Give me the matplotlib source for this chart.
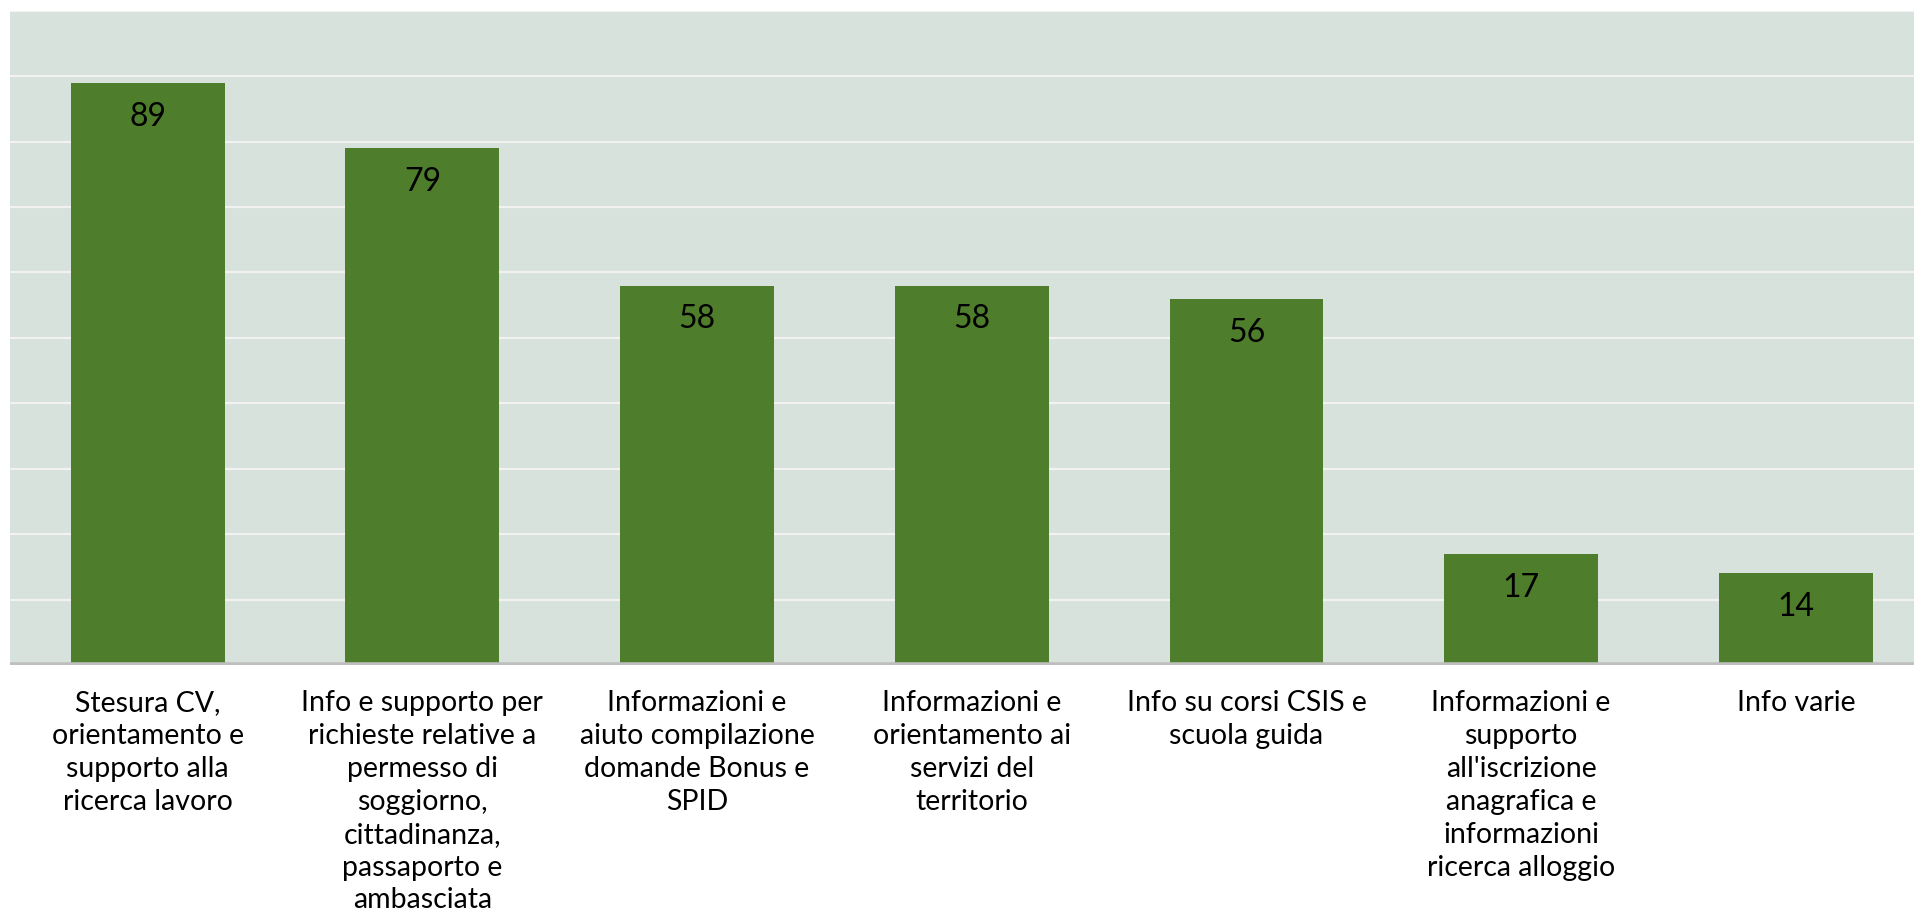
import numpy as np
import matplotlib.pyplot as plt

categories = [
    "Stesura CV,\norientamento e\nsupporto alla\nricerca lavoro",
    "Info e supporto per\nrichieste relative a\npermesso di\nsoggiorno,\ncittadinanza,\npassaporto e\nambasciata",
    "Informazioni e\naiuto compilazione\ndomande Bonus e\nSPID",
    "Informazioni e\norientamento ai\nservizi del\nterritorio",
    "Info su corsi CSIS e\nscuola guida",
    "Informazioni e\nsupporto\nall'iscrizione\nanagrafica e\ninformazioni\nricerca alloggio",
    "Info varie",
]
values = [89, 79, 58, 58, 56, 17, 14]

plt.rcParams['font.family'] = ['Lato', 'DejaVu Sans']

fig = plt.figure(figsize=(19.14, 9.18), dpi=100)
ax = fig.add_axes([10 / 1914, 1 - 665 / 918, 1 - 10 / 1914, (665 - 10.7) / 918])
ax.set_facecolor("#D8E2DC")

x = np.arange(len(values))
ax.bar(x, values, width=0.56, color="#4E7D2B", zorder=3)

ax.set_ylim(0, 100)
ax.set_xlim(-0.501, 6.43)
for yv in range(10, 101, 10):
    ax.axhline(yv, color="#F2F2F2", lw=1.5, zorder=1)
ax.axhline(0, color="#BFBFBF", lw=4, zorder=4)

for xi, v in zip(x, values):
    ax.text(xi, v - 2.9, str(v), ha="center", va="top", fontsize=23, color="black", zorder=5)

for xi, lab in zip(x, categories):
    ax.text(xi, -3.8, lab, ha="center", va="top", fontsize=20.5, color="black",
            linespacing=1.33, clip_on=False)

ax.set_xticks([])
ax.set_yticks([])
for s in ax.spines.values():
    s.set_visible(False)

fig.savefig("out.png", dpi=100)
